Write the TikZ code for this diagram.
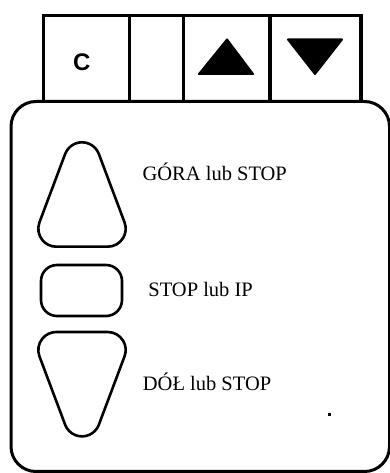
\documentclass[tikz,border=0pt]{standalone}
\usepackage{fontspec}
\setmainfont{Liberation Serif}
\newfontfamily\arialfont{Liberation Sans}
\tikzset{
  keybox/.style={draw, line width=3.3pt, line join=miter},
  body/.style={draw, line width=3pt, rounded corners=25pt},
  btn/.style={draw, line width=2.6pt},
  arrowfill/.style={fill=black, draw=black, line width=2pt, line join=round},
  lbl/.style={anchor=base west, inner sep=0pt, font=\fontsize{20.5}{24}\selectfont},
  pics/rtri/.style={code={
    \draw[btn] (-16.85,40.53) -- ++(-25.7,-68.4)
      arc[start angle=159.4, end angle=270, radius=18]
      -- ++(51.4,0)
      arc[start angle=270, end angle=380.6, radius=18]
      -- ++(-25.7,68.4)
      arc[start angle=20.6, end angle=159.4, radius=18]
      -- cycle;
  }}
}
\begin{document}
\begin{tikzpicture}[x=1pt, y=1pt]
\useasboundingbox (0,0) rectangle (390,473);
% main body
\draw[body] (11,371.5) rectangle (389.5,1.5);
% key boxes
\draw[keybox] (43.3,371.5) rectangle (129.3,457.8);
\draw[keybox] (129.3,371.5) rectangle (183.5,457.5);
\draw[keybox] (183.5,371.5) rectangle (270,457.5);
\draw[keybox] (270,371.5) rectangle (361,457.5);
\node[font=\arialfont\bfseries\fontsize{24}{28}\selectfont, inner sep=0pt] (c) at (81.8,411) {C};
\draw[arrowfill] (199,399) -- (253,399) -- (227,433.5) -- cycle;
\draw[arrowfill] (288,433.5) -- (342,433.5) -- (315,399) -- cycle;
% buttons
\pic at (82,278.5) {rtri};
\pic[yscale=-1] at (82,88.8) {rtri};
\draw[btn, rounded corners=16pt] (41,208) rectangle (122,157);
% labels
\node[lbl] (up) at (142.4,292.3) {GÓRA lub STOP};
\node[lbl] (stop) at (148.2,176.3) {STOP lub IP};
\node[lbl] (down) at (142.7,82.3) {DÓŁ lub STOP};
\fill (327.5,57.2) rectangle (330.5,60.2);
\end{tikzpicture}
\end{document}
